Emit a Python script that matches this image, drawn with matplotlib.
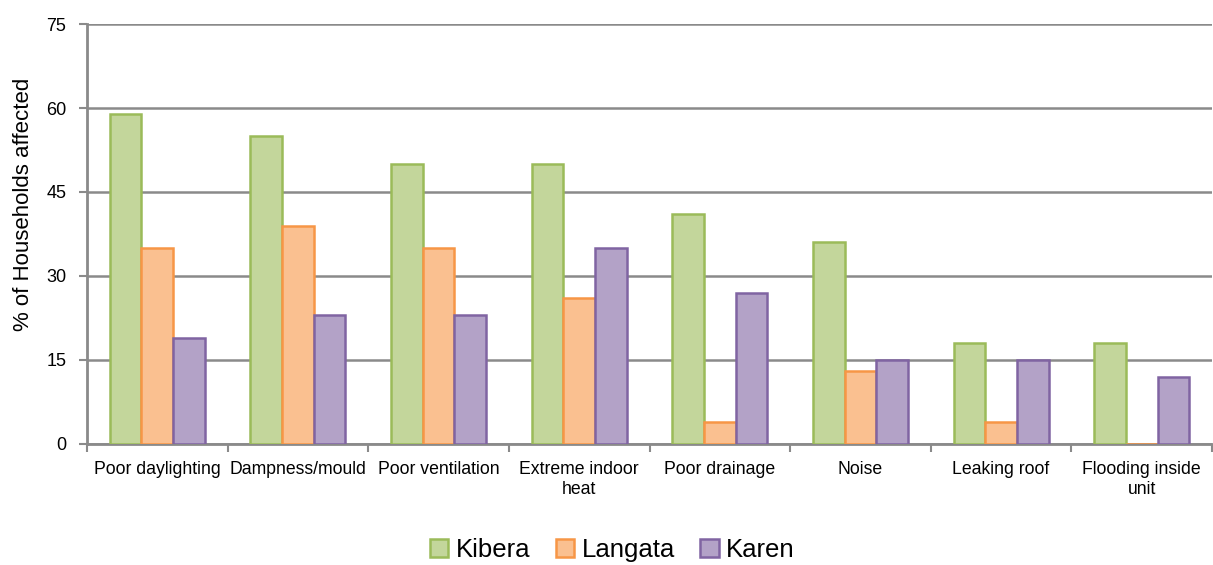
import matplotlib
matplotlib.use("Agg")
import matplotlib.pyplot as plt
import numpy as np

# housing problems reported per settlement
categories = ["Poor daylighting", "Dampness/mould", "Poor ventilation",
              "Extreme indoor\nheat", "Poor drainage", "Noise",
              "Leaking roof", "Flooding inside\nunit"]
kibera = [59, 55, 50, 50, 41, 36, 18, 18]
langata = [35, 39, 35, 26, 4, 13, 4, 0]
karen = [19, 23, 23, 35, 27, 15, 15, 12]
series_names = ["Kibera", "Langata", "Karen"]
y_ticks = [0, 15, 30, 45, 60, 75]

fills = ["#C3D69B", "#FAC090", "#B3A2C7"]
edges = ["#9BBB59", "#F79646", "#8064A2"]
grid_col = "#8A8A8A"

plt.rcParams["font.family"] = ["Liberation Sans", "DejaVu Sans"]

fig = plt.figure(figsize=(12.13, 5.65), dpi=100)
ax = fig.add_axes([0.0717, 0.2142, 0.9275, 0.7433])

x = np.arange(len(categories))
w = 0.225
for i, (vals, name) in enumerate(zip([kibera, langata, karen], series_names)):
    ax.bar(x + (i - 1) * w, vals, width=w, color=fills[i], edgecolor=edges[i],
           linewidth=1.8, label=name, zorder=3)

ax.set_xlim(-0.5, len(categories) - 0.5)
ax.set_ylim(0, 75)
ax.set_yticks(y_ticks)
ax.set_yticklabels([str(t) for t in y_ticks], fontsize=13)
ax.yaxis.grid(True, color=grid_col, linewidth=1.8, zorder=0)
ax.tick_params(axis="y", length=6, width=1.5, color=grid_col, pad=9)

# category labels centred, tick marks at group boundaries
ax.set_xticks(x)
ax.set_xticklabels(categories, fontsize=12.7, linespacing=1.25)
ax.tick_params(axis="x", length=0, pad=12)
ax.set_xticks(np.arange(len(categories) + 1) - 0.5, minor=True)
ax.tick_params(axis="x", which="minor", length=6, width=1.5, color=grid_col)

for side in ["top", "right"]:
    ax.spines[side].set_visible(False)
for side in ["left", "bottom"]:
    ax.spines[side].set_color(grid_col)
    ax.spines[side].set_linewidth(2)

ax.set_ylabel("% of Households affected", fontsize=16)
ax.yaxis.set_label_coords(-0.047, 0.57)

ax.legend(loc="center", bbox_to_anchor=(0.467, -0.252), ncol=3, frameon=False,
          fontsize=18.5, handlelength=0.72, handleheight=0.72, handletextpad=0.28,
          columnspacing=1.0, borderpad=0)

fig.savefig("out.png", dpi=100)
